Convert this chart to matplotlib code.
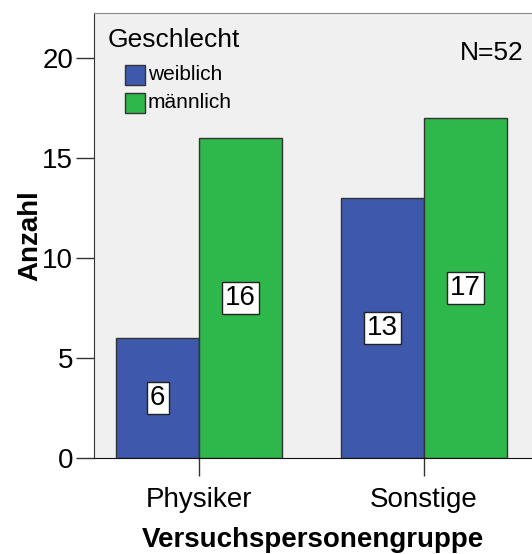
import matplotlib.pyplot as plt
from matplotlib.patches import Rectangle
import numpy as np

plt.rcParams['font.family'] = ['Liberation Sans', 'DejaVu Sans']

groups = ["Physiker", "Sonstige"]
weiblich = [6, 13]
maennlich = [16, 17]
legend_title = "Geschlecht"
series_names = ["weiblich", "männlich"]
n_total = 52

blue = "#3e58ac"
green = "#2eb84b"

fig = plt.figure(figsize=(5.32, 5.54), dpi=100)
ax = fig.add_axes([94 / 532, 96 / 554, 1 - 94 / 532, 445 / 554])
ax.set_facecolor("#f0f0f0")

x = np.arange(len(groups))
w = 0.369
b1 = ax.bar(x - w / 2, weiblich, w, color=blue, edgecolor="#333333", linewidth=1)
b2 = ax.bar(x + w / 2, maennlich, w, color=green, edgecolor="#333333", linewidth=1)

box = dict(boxstyle="square,pad=0.12", facecolor="white", edgecolor="#222222", linewidth=1)
for bars in (b1, b2):
    ax.bar_label(bars, label_type="center", fontsize=20, bbox=box)

ax.set_xlim(-0.467, 1.48)
ax.set_ylim(0, 22.25)
ax.set_yticks([0, 5, 10, 15, 20])
ax.set_xticks(x)
ax.set_xticklabels(groups)
ax.tick_params(axis="both", length=13, width=1, color="#333333", labelsize=20, pad=2)
ax.tick_params(axis="x", pad=8)

ax.spines["right"].set_visible(False)
ax.spines["top"].set_color("#888888")
ax.spines["left"].set_color("#333333")
ax.spines["bottom"].set_color("#111111")

ax.set_ylabel("Anzahl", fontsize=20, fontweight="bold", labelpad=-1)
ax.set_xlabel("Versuchspersonengruppe", fontsize=20, fontweight="bold", labelpad=10)

# legend drawn by hand, positions in pixels of the axes box (438 x 445)
def axpt(px, py):
    return px / 438, 1 - py / 445

tx, ty = axpt(108 - 94, 40 - 13)
ax.text(tx, ty, legend_title, transform=ax.transAxes, ha="left", va="center", fontsize=19)
for name, col, yc in zip(series_names, [blue, green], [75, 103]):
    rx, ry = axpt(125 - 94, yc + 10 - 13)
    ax.add_patch(Rectangle((rx, ry), 20 / 438, 20 / 445, transform=ax.transAxes,
                           facecolor=col, edgecolor="#333333", linewidth=1))
    lx, ly = axpt(148 - 94, yc - 13)
    ax.text(lx, ly, name, transform=ax.transAxes, ha="left", va="center", fontsize=15)

nx_, ny_ = axpt(524 - 94, 53 - 13)
ax.text(nx_, ny_, f"N={n_total}", transform=ax.transAxes, ha="right", va="center", fontsize=19)

fig.savefig("out.png", dpi=100)
